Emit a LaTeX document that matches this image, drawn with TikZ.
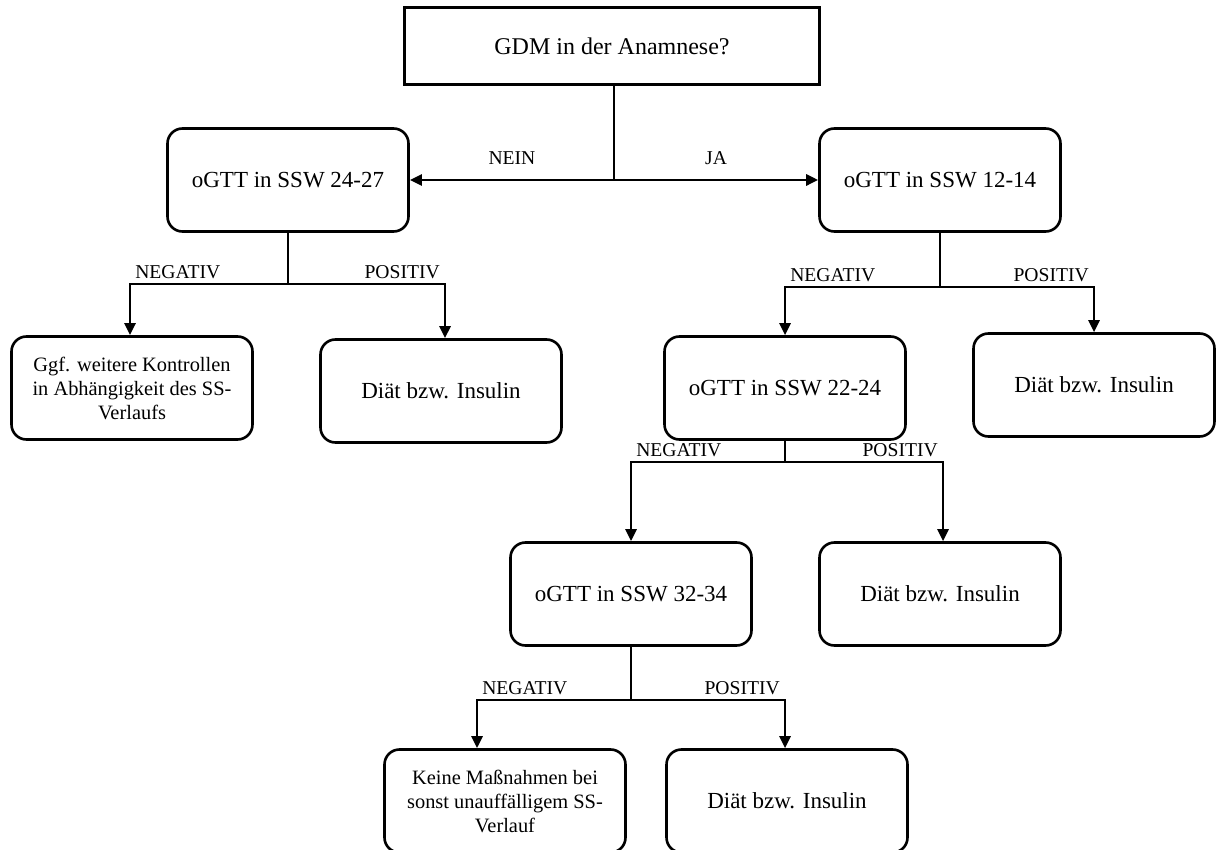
\documentclass[tikz,border=0pt]{standalone}
\usepackage{fontspec}
\setmainfont{Liberation Serif}
\usetikzlibrary{arrows.meta, positioning}

\begin{document}
\begin{tikzpicture}[x=0.5pt, y=-0.5pt,
	box/.style = {draw, line width=1.3pt, rounded corners=7.5pt,
		minimum width=120.5pt, minimum height=51.5pt, align=center,
		font=\fontsize{11.5}{13}\selectfont},
	small/.style = {font=\fontsize{10.2}{12}\selectfont},
	lbl/.style = {font=\fontsize{9.8}{11}\selectfont, inner sep=2pt},
	line/.style = {line width=1.3pt},
	arr/.style = {line width=1.3pt, -{Triangle[length=6pt, width=5.5pt]}}]
	\useasboundingbox (0,0) rectangle (1216,850);

	\node (gdm) [draw, line width=1.3pt, minimum width=207.5pt, minimum height=38.5pt,
		font=\fontsize{12}{14}\selectfont] at (612,46) {GDM in der Anamnese?};
	\node (ssw2427) [box] at (288,180) {oGTT in SSW 24-27};
	\node (ssw1214) [box] at (940,180) {oGTT in SSW 12-14};
	\node (kontr) [box, small] at (132,388) {Ggf. weitere Kontrollen\\in Abhängigkeit des SS-\\Verlaufs};
	\node (ins1) [box] at (441,391) {Diät bzw. Insulin};
	\node (ssw2224) [box] at (785,388) {oGTT in SSW 22-24};
	\node (ins2) [box] at (1094,385) {Diät bzw. Insulin};
	\node (ssw3234) [box] at (631,594) {oGTT in SSW 32-34};
	\node (ins3) [box] at (940,594) {Diät bzw. Insulin};
	\node (keine) [box, small] at (505,801) {Keine Maßnahmen bei\\sonst unauffälligem SS-\\Verlauf};
	\node (ins4) [box] at (787,801) {Diät bzw. Insulin};

	\coordinate (j0) at (614,180);
	\coordinate (j1) at (288,284);
	\coordinate (j2) at (940,287);
	\coordinate (j3) at (785,462);
	\coordinate (j4) at (631,700);

	\draw [line] (gdm.south -| j0) -- (j0);
	\draw [arr] (j0) -- node[lbl, above=5pt] {NEIN} (ssw2427);
	\draw [arr] (j0) -- node[lbl, above=5pt] {JA} (ssw1214);

	\draw [line] (ssw2427) -- (j1);
	\draw [arr] (j1) -| node[lbl, pos=0.5, anchor=south west] {NEGATIV} ([xshift=-1pt]kontr.north);
	\draw [arr] (j1) -| node[lbl, pos=0.5, anchor=south east] {POSITIV} ([xshift=2pt]ins1.north);

	\draw [line] (ssw1214) -- (j2);
	\draw [arr] (j2) -| node[lbl, pos=0.5, anchor=south west] {NEGATIV} (ssw2224);
	\draw [arr] (j2) -| node[lbl, pos=0.5, anchor=south east] {POSITIV} (ins2);

	\draw [line] (ssw2224) -- (j3);
	\draw [arr] (j3) -| node[lbl, pos=0.5, anchor=south west] {NEGATIV} (ssw3234);
	\draw [arr] (j3) -| node[lbl, pos=0.5, anchor=south east] {POSITIV} ([xshift=1.5pt]ins3.north);

	\draw [line] (ssw3234) -- (j4);
	\draw [arr] (j4) -| node[lbl, pos=0.5, anchor=south west] {NEGATIV} ([xshift=-14pt]keine.north);
	\draw [arr] (j4) -| node[lbl, pos=0.5, anchor=south east] {POSITIV} ([xshift=-1pt]ins4.north);
\end{tikzpicture}
\end{document}
